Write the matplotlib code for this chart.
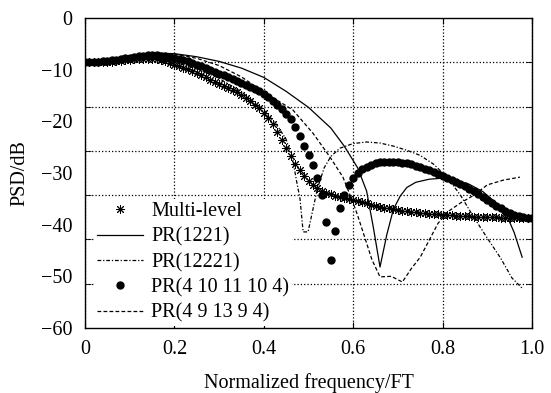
import numpy as np
import matplotlib
matplotlib.use("Agg")
import matplotlib.pyplot as plt
from matplotlib.markers import MarkerStyle

plt.rcParams['font.family'] = ['Liberation Serif', 'DejaVu Serif']
plt.rcParams['font.size'] = 14.5

# sample grid of the two marker series (normalized frequency)
freq = np.linspace(0.0, 1.0, 101)

multi_level = [
    -8.6, -8.6, -8.6, -8.6, -8.6, -8.5, -8.5, -8.4, -8.3, -8.2,
    -8.1, -8.0, -7.9, -7.9, -7.9, -7.9, -8.0, -8.2, -8.4, -8.7,
    -9.0, -9.3, -9.6, -9.9, -10.3, -10.7, -11.1, -11.5, -12.0, -12.4,
    -12.8, -13.1, -13.5, -13.9, -14.4, -14.9, -15.5, -16.1, -16.8, -17.5,
    -18.3, -19.3, -20.5, -22.0, -23.6, -25.2, -26.8, -28.2, -29.5, -30.6,
    -31.5, -32.3, -32.9, -33.4, -33.8, -34.1, -34.4, -34.6, -34.9, -35.1,
    -35.3, -35.5, -35.7, -35.9, -36.1, -36.3, -36.5, -36.7, -36.8, -37.0,
    -37.1, -37.3, -37.4, -37.5, -37.6, -37.7, -37.8, -37.9, -38.0, -38.0,
    -38.1, -38.2, -38.2, -38.3, -38.3, -38.4, -38.4, -38.5, -38.5, -38.5,
    -38.6, -38.6, -38.6, -38.7, -38.7, -38.7, -38.7, -38.7, -38.8, -38.8,
    -38.8,
]

pr_4_10_11_10_4 = [
    -8.6, -8.6, -8.5, -8.5, -8.4, -8.3, -8.2, -8.1, -8.0, -7.8,
    -7.7, -7.5, -7.4, -7.3, -7.2, -7.2, -7.2, -7.3, -7.4, -7.5,
    -7.7, -7.9, -8.1, -8.4, -8.7, -9.0, -9.3, -9.6, -10.0, -10.4,
    -10.8, -11.1, -11.5, -11.8, -12.2, -12.6, -13.0, -13.4, -13.8, -14.2,
    -14.7, -15.3, -16.0, -16.8, -17.6, -18.6, -19.6, -21.0, -22.8, -24.7,
    -26.6, -28.5, -31.0, -34.3, -39.5, -46.8, -41.2, -36.8, -34.3, -32.3,
    -31.0, -30.0, -29.3, -28.8, -28.4, -28.1, -27.9, -27.8, -27.8, -27.8,
    -27.9, -28.0, -28.1, -28.3, -28.6, -28.9, -29.2, -29.5, -29.8, -30.1,
    -30.5, -30.9, -31.3, -31.7, -32.1, -32.6, -33.0, -33.5, -34.0, -34.6,
    -35.2, -35.8, -36.3, -36.8, -37.3, -37.7, -38.1, -38.4, -38.6, -38.7,
    -38.7,
]

pr_1221_x = [0, 0.05, 0.1, 0.15, 0.2, 0.25, 0.3, 0.35, 0.4, 0.45, 0.5, 0.55,
             0.58, 0.61, 0.63, 0.645, 0.66, 0.675, 0.69, 0.705, 0.72, 0.74,
             0.77, 0.8, 0.83, 0.86, 0.89, 0.92, 0.945, 0.96, 0.978]
pr_1221_y = [-8.5, -8.2, -7.4, -6.8, -6.9, -7.5, -8.4, -9.7, -11.5, -14.2, -17.3, -21.3,
             -24.8, -29.0, -33.5, -40.5, -48.2, -42.0, -37.0, -34.5, -32.8, -31.8,
             -31.2, -31.0, -31.4, -32.2, -33.6, -35.8, -38.5, -41.5, -46.3]

pr_12221_x = [0, 0.05, 0.1, 0.15, 0.2, 0.25, 0.3, 0.35, 0.4, 0.43, 0.45, 0.465,
              0.474, 0.481, 0.488, 0.499, 0.51, 0.52, 0.535, 0.55, 0.57, 0.6,
              0.63, 0.66, 0.69, 0.72, 0.75, 0.78, 0.81, 0.84, 0.87, 0.9,
              0.93, 0.955, 0.978]
pr_12221_y = [-8.6, -8.5, -8.2, -8.0, -8.6, -9.8, -11.7, -14.3, -17.8, -20.8, -23.5, -27.5,
              -31.9, -35.0, -41.4, -41.4, -37.0, -33.0, -29.0, -26.8, -25.2, -24.3,
              -24.0, -24.2, -24.8, -25.6, -26.6, -28.3, -30.8, -34.3, -38.6, -42.6,
              -46.5, -50.3, -52.3]

pr_4_9_13_9_4_x = [0, 0.05, 0.1, 0.15, 0.2, 0.25, 0.3, 0.35, 0.4, 0.465, 0.51, 0.548,
                   0.577, 0.6, 0.611, 0.642, 0.66, 0.685, 0.71, 0.73, 0.75, 0.77,
                   0.79, 0.815, 0.84, 0.87, 0.9, 0.935, 0.973]
pr_4_9_13_9_4_y = [-8.5, -8.3, -7.6, -7.0, -7.0, -7.8, -9.2, -11.4, -14.3, -17.8, -22.3, -26.9,
                   -30.8, -35.8, -38.5, -46.8, -50.1, -50.0, -51.1, -48.5, -46.3, -43.0,
                   -39.7, -37.3, -35.8, -34.3, -32.3, -31.4, -30.8]

y_labels = [0, -10, -20, -30, -40, -50, -60]
x_labels = [0, 0.2, 0.4, 0.6, 0.8, 1.0]

fig = plt.figure(figsize=(5.51, 3.93), dpi=100)
ax = fig.add_axes([85 / 551, 1 - 328 / 393, 447 / 551, 310 / 393])

ax.plot(freq, multi_level, linestyle='none', marker=MarkerStyle((8, 2, 0)),
        markersize=6.5, markeredgewidth=0.7, color='black', label='Multi-level', zorder=3)
ax.plot(pr_1221_x, pr_1221_y, '-', color='black', lw=0.9, label='PR(1221)', zorder=3)
ax.plot(pr_12221_x, pr_12221_y, color='black', lw=0.9, linestyle=(0, (3, 1.5, 1, 1.5)),
        label='PR(12221)', zorder=3)
ax.plot(freq, pr_4_10_11_10_4, linestyle='none', marker='o', markersize=5,
        color='black', label='PR(4 10 11 10 4)', zorder=3)
ax.plot(pr_4_9_13_9_4_x, pr_4_9_13_9_4_y, color='black', lw=0.9, linestyle=(0, (3, 1.8)),
        label='PR(4 9 13 9 4)', zorder=3)

ax.set_xlim(0, 1.0)
ax.set_ylim(-60, 0)
ax.set_xticks(x_labels)
ax.set_xticklabels(['0', '0.2', '0.4', '0.6', '0.8', '1.0'])
ax.set_yticks(y_labels)
ax.set_yticklabels(['0', '\u221210', '\u221220', '\u221230', '\u221240', '\u221250', '\u221260'])
# grid lines of the original figure sit on seven equal steps
ax.set_yticks(np.linspace(-60, 0, 8), minor=True)
ax.tick_params(axis='y', which='major', length=0, pad=9)
ax.tick_params(axis='y', which='minor', direction='in', length=4, left=True, right=True)
ax.tick_params(axis='x', which='major', direction='in', length=4, top=True, pad=9)
ax.grid(True, axis='x', which='major', linestyle=':', color='black', lw=0.9)
ax.grid(True, axis='y', which='minor', linestyle=':', color='black', lw=0.9)
for s in ax.spines.values():
    s.set_linewidth(1.0)

ax.set_xlabel('Normalized frequency/FT', labelpad=10)
ax.set_ylabel('PSD/dB', labelpad=8)

leg = ax.legend(loc='upper left', bbox_to_anchor=(0.02, 0.415), frameon=True,
                fancybox=False, edgecolor='none', facecolor='white', framealpha=1,
                numpoints=1, handlelength=2.3, handletextpad=0.4, labelspacing=0.3,
                borderpad=0.15, borderaxespad=0)
leg.set_zorder(5)

fig.savefig('out.png', dpi=100)
